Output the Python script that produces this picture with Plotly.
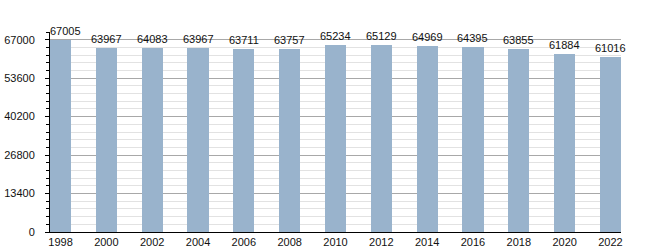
import plotly.graph_objects as go

years = [1998, 2000, 2002, 2004, 2006, 2008, 2010, 2012, 2014, 2016, 2018, 2020, 2022]
population = [67005, 63967, 64083, 63967, 63711, 63757, 65234, 65129, 64969, 64395, 63855, 61884, 61016]
y_ticks = [0, 13400, 26800, 40200, 53600, 67000]

fig = go.Figure()
fig.add_trace(go.Bar(
    x=years, y=population, width=0.92,
    marker=dict(color="#99b3cc", line=dict(width=0)),
    cliponaxis=False,
))
for i, (yr, v) in enumerate(zip(years, population)):
    fig.add_annotation(
        x=yr, y=v, text=str(v), showarrow=False,
        yanchor="bottom", yshift=1, xshift=5 if i == 0 else 0,
        font=dict(family="Liberation Sans, Arial", size=11, color="#111"),
    )
fig.update_layout(
    width=650, height=250,
    margin=dict(l=50, r=29, t=32, b=18, autoexpand=False),
    paper_bgcolor="white", plot_bgcolor="white",
    showlegend=False, bargap=0,
    font=dict(family="Liberation Sans, Arial", size=11, color="#111"),
)
fig.update_xaxes(
    range=[1997.54, 2022.46], tickvals=years, ticktext=[str(y) for y in years],
    showline=True, linecolor="#000", linewidth=1, showgrid=False,
    ticks="", tickfont=dict(size=11), zeroline=False, automargin=False,
)
fig.update_yaxes(
    range=[0, 69680], tickvals=y_ticks, ticktext=[str(v) for v in y_ticks],
    showline=True, linecolor="#000", linewidth=1,
    showgrid=True, gridcolor="#a8a8a8", gridwidth=1,
    ticks="outside", ticklen=4, tickcolor="#000", ticklabelstandoff=8,
    minor=dict(dtick=2680, showgrid=True, gridcolor="#e2e2e2", ticks="outside", ticklen=3, tickcolor="#000"),
    zeroline=False, tickfont=dict(size=11), automargin=False,
)
fig.write_html("out.html")
